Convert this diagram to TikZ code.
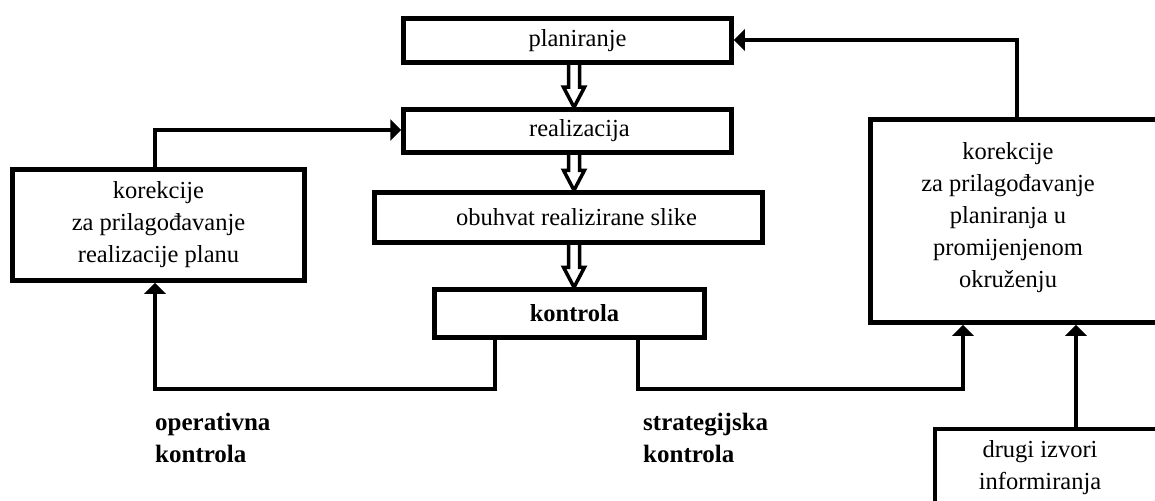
\documentclass[tikz,border=0pt]{standalone}
\usepackage{fontspec}
\setmainfont{Liberation Serif}
\usetikzlibrary{arrows.meta,calc,backgrounds}
\newcommand\hollowarrow[2]{%
  \draw[hollow] let \p1=(#1.south -| hx), \p2=(#2.north -| hx) in
    (\x1-5.5pt,\y1+3pt) -- (\x1-5.5pt,\y2+20pt) -- (\x1-10.5pt,\y2+20pt) -- (\x1,\y2)
    -- (\x1+10.5pt,\y2+20pt) -- (\x1+5.5pt,\y2+20pt) -- (\x1+5.5pt,\y1+3pt);}
\begin{document}
\begin{tikzpicture}[x=1pt,y=-1pt,
  box/.style={draw,line width=4.5pt,fill=white,inner sep=0pt,
    font=\fontsize{24.5}{32}\selectfont,align=center},
  txt/.style={font=\fontsize{24.5}{32}\selectfont,align=center,inner sep=0pt},
  textright/.style={execute at begin node={\hspace*{#1}}},
  conn/.style={line width=4.5pt,line join=miter,-{Triangle[width=21pt,length=11pt]}},
  hollow/.style={draw,line width=3.5pt,fill=white,line join=miter},
  lbl/.style={font=\bfseries\fontsize{25}{32}\selectfont,align=left,inner sep=0pt,anchor=west}]
\useasboundingbox (0,0) rectangle (1155,500);
\clip (0,0) rectangle (1155,500);

% boxes
\node[box,textright=20pt,minimum width=328pt,minimum height=44pt] (plan) at (567.5,40.5) {planiranje};
\node[box,textright=24pt,minimum width=328pt,minimum height=43pt] (real) at (567.5,131) {realizacija};
\node[box,textright=16pt,minimum width=388pt,minimum height=50pt] (obuh) at (568.5,217.5) {obuhvat realizirane slike};
\node[box,textright=10pt,minimum width=270pt,minimum height=48pt] (kont) at (569.5,313.5) {\bfseries kontrola};
\node[box,minimum width=292pt,minimum height=111pt] (korL) at (158.5,225)
  {korekcije\\za prilagođavanje\\realizacije planu};
\node[box,minimum width=295pt,minimum height=203pt] (korR) at (1018,221) {};
\node[txt] (korRt) at (1008,218)
  {korekcije\\za prilagođavanje\\planiranja u\\promijenjenom\\okruženju};
\node[box,minimum width=230pt,minimum height=90pt] (drugi) at (1050,474) {};
\node[txt] (drugit) at (1040,468) {drugi izvori\\informiranja};

% labels
\node[lbl] (op) at (155,438) {operativna\\kontrola};
\node[lbl] (st) at (643,438) {strategijska\\kontrola};

% hollow arrows (behind the boxes)
\coordinate (hx) at (574,0);
\begin{pgfonlayer}{background}
\fill[white] (0,0) rectangle (1155,500);
\hollowarrow{plan}{real}
\hollowarrow{real}{obuh}
\hollowarrow{obuh}{kont}
\end{pgfonlayer}

% connectors
\coordinate (lTop) at (155,130);
\draw[conn] (korL.north -| lTop) -- (lTop) -- (lTop -| real.west);

\coordinate (opR) at (495,389);
\coordinate (opL) at (155,389);
\draw[conn] (kont.south -| opR) -- (opR) -- (opL) -- (korL.south -| opL);

\coordinate (stL) at (638,389);
\coordinate (stR) at (963,389);
\draw[conn] (kont.south -| stL) -- (stL) -- (stR) -- (korR.south -| stR);

\coordinate (dX) at (1076,0);
\draw[conn] (drugi.north -| dX) -- (korR.south -| dX);

\coordinate (pTop) at (1017,40);
\draw[conn] (korR.north -| pTop) -- (pTop) -- (pTop -| plan.east);
\end{tikzpicture}
\end{document}
